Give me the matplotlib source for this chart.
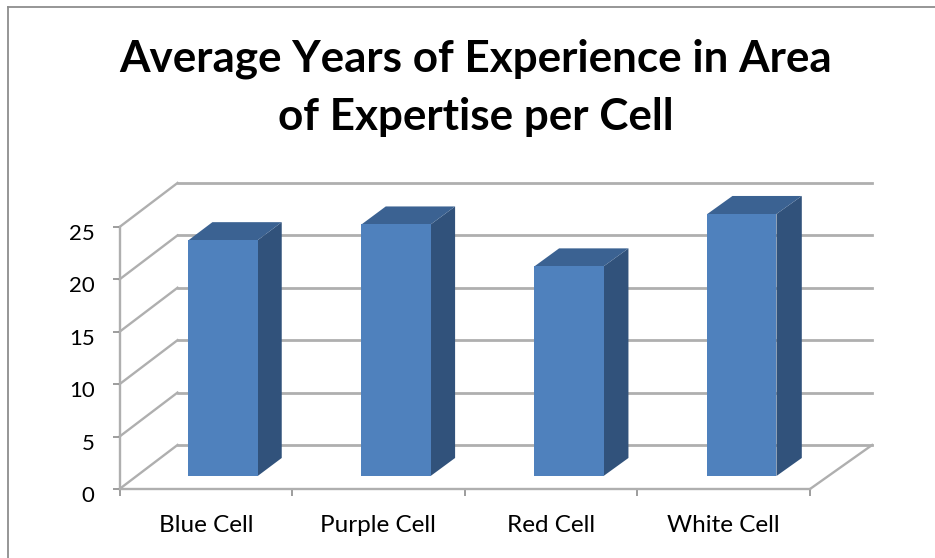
import matplotlib
matplotlib.use("Agg")
import matplotlib.pyplot as plt
from matplotlib.lines import Line2D
from matplotlib.patches import Polygon
from matplotlib.transforms import ScaledTranslation
import numpy as np

categories = ["Blue Cell", "Purple Cell", "Red Cell", "White Cell"]
years = [22.5, 24, 20, 25]
yTicks = [0, 5, 10, 15, 20, 25]
titleText = "Average Years of Experience in Area\nof Expertise per Cell"

W, H = 935, 558
plt.rcParams["font.family"] = ["Lato", "DejaVu Sans"]

# pixel layout of the front plane of the chart
left, right, top, bottom = 119.5, 810, 227, 489

# depth of the floor, in data units (x = categories, y = years)
depthX = 0.336
depthY = 4.2
spread = 0.006 # back wall is a touch wider than the front axis
barWidth = 0.40
barFront = 0.295
barBack = 0.705

gridCol = "#afafaf"
frontCol = "#4f81bd"
sideCol = "#31527b"
topCol = "#3b6292"


def shear(x, y, d):
	return (x*(1 + d*spread) + d*depthX, y + d*depthY)


fig = plt.figure(figsize=(W/100, H/100), dpi=100)
ax = fig.add_axes([left/W, 1 - bottom/H, (right - left)/W, (bottom - top)/H])
ax.set_xlim(0, len(categories))
ax.set_ylim(0, 25)
ax.patch.set_visible(False)

# walls
for v in yTicks:
	x0, y0 = shear(0, v, 1)
	x1, y1 = shear(len(categories), v, 1)
	ax.plot([0, x0], [v, y0], color=gridCol, lw=1.7, clip_on=False, zorder=1)
	ax.plot([x0, x1], [y0, y1], color=gridCol, lw=2.0, clip_on=False, zorder=1)
x1, y1 = shear(len(categories), 0, 1)
ax.plot([len(categories), x1], [0, y1], color=gridCol, lw=1.7, clip_on=False, zorder=1)

# bars
for i, v in enumerate(years):
	x0 = i + 0.5 - barWidth/2
	x1 = i + 0.5 + barWidth/2
	f00 = shear(x0, 0, barFront)
	f10 = shear(x1, 0, barFront)
	f11 = shear(x1, v, barFront)
	f01 = shear(x0, v, barFront)
	b10 = shear(x1, 0, barBack)
	b11 = shear(x1, v, barBack)
	b01 = shear(x0, v, barBack)
	ax.add_patch(Polygon([f10, b10, b11, f11], closed=True, fc=sideCol, ec="none", clip_on=False, zorder=3))
	ax.add_patch(Polygon([f01, f11, b11, b01], closed=True, fc=topCol, ec="none", clip_on=False, zorder=3))
	ax.add_patch(Polygon([f00, f10, f11, f01], closed=True, fc=frontCol, ec="none", clip_on=False, zorder=4))

# axes
for s in ["top", "right"]:
	ax.spines[s].set_visible(False)
for s in ["left", "bottom"]:
	ax.spines[s].set_color(gridCol)
	ax.spines[s].set_linewidth(1.7)

ax.set_yticks(yTicks)
ax.tick_params(axis="y", which="major", length=5, width=1.2, color="#8c8c8c", labelsize=16, pad=13, labelcolor="black")
ax.set_xticks(np.arange(len(categories) + 1))
ax.set_xticklabels([])
ax.tick_params(axis="x", which="major", length=5, width=1.2, color="#8c8c8c")
ax.set_xticks(np.arange(len(categories)) + 0.5, minor=True)
ax.set_xticklabels(categories, minor=True)
ax.tick_params(axis="x", which="minor", length=0, labelsize=17.5, pad=19, labelcolor="black")

# y labels sit a little below their ticks in the original
yShift = ScaledTranslation(0, -5/100, fig.dpi_scale_trans)
for label in ax.get_yticklabels():
	label.set_transform(label.get_transform() + yShift)

# title
fig.text(476/W, 1 - 88/H, titleText, ha="center", va="center", fontsize=31.7, fontweight="bold", linespacing=1.56, color="black")

# chart frame, only the top and left edges are in the crop
fig.add_artist(Line2D([7.5/W, 7.5/W], [0, 1 - 7/H], color="#8e8e8e", lw=1.3))
fig.add_artist(Line2D([7.5/W, 1], [1 - 7/H, 1 - 7/H], color="#8e8e8e", lw=1.3))

plt.savefig("out.png", dpi=100)
